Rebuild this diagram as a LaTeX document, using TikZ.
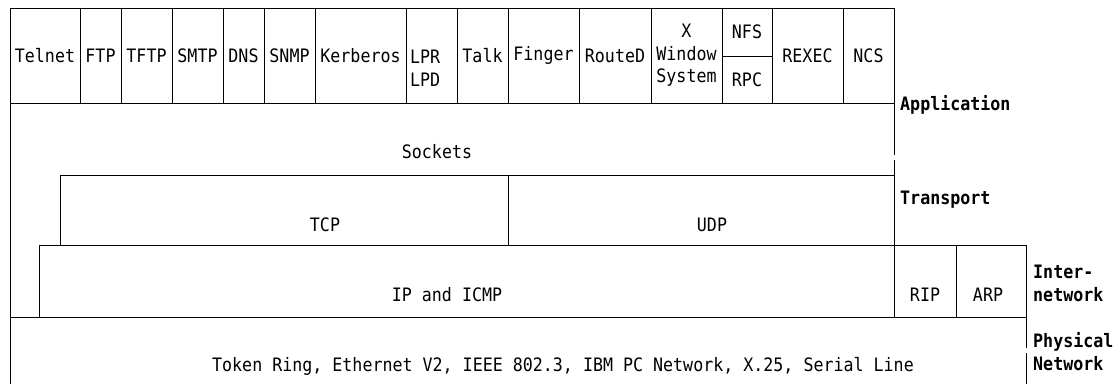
\documentclass[tikz,border=0pt]{standalone}
\usepackage{fontspec}
\setmonofont[FakeStretch=0.9]{DejaVu Sans Mono}
\usetikzlibrary{positioning}

\begin{document}
\begin{tikzpicture}[
  x=1pt, y=-1pt,
  font=\ttfamily\fontsize{18.5}{22.5}\selectfont,
  cell/.style={draw, line width=1pt, anchor=north west, inner sep=0pt,
               outer sep=0pt, align=center},
  txt/.style={inner sep=0pt, align=center},
  layer/.style={font=\ttfamily\bfseries\fontsize{18.5}{23}\selectfont,
                anchor=west, align=left, inner sep=0pt},
  stack/.style={line width=1pt, line join=miter},
]
  \useasboundingbox (0,0) rectangle (1113,384);

  % application protocols
  \foreach \l/\r/\name/\txt in {10/80/telnet/Telnet, 80/121/ftp/FTP,
      121/172/tftp/TFTP, 172/223/smtp/SMTP, 223/264/dns/DNS,
      264/315/snmp/SNMP, 315/406/kerberos/Kerberos, 457/508/talk/Talk,
      508/579/finger/Finger, 579/651/routed/RouteD,
      651/722/xwin/{X\\Window\\System}, 772/843/rexec/REXEC,
      843/894/ncs/NCS}
    \node[cell, minimum width={(\r-\l)*1pt}, minimum height=95pt]
      (\name) at (\l,8) {\txt};
  \node[cell, minimum width=51pt, minimum height=95pt] (lpr) at (406,8) {};
  \node[txt, align=left, text width=43pt] (lpr-txt)
    at ([yshift=-13pt]lpr.center) {LPR\\LPD};
  \node[cell, minimum width=50pt, minimum height=48pt] (nfs) at (722,8) {NFS};
  \node[cell, minimum width=50pt, minimum height=47pt] (rpc) at (722,56) {RPC};

  % sockets, stepped down to the left
  \draw[stack] (894,160) -- (894,175) -- (60,175) -- (60,245) -- (39,245)
    -- (39,317) -- (10,317) -- (10,103) -- (894,103) -- (894,155);
  \node[txt] (sockets) at (437,152) {Sockets};

  % transport
  \node[cell, minimum width=448pt, minimum height=70pt] (tcp) at (60,175) {};
  \node[cell, minimum width=386pt, minimum height=70pt] (udp) at (508,175) {};
  \node[txt] (tcp-txt) at (325,225) {TCP};
  \node[txt] (udp-txt) at (712,225) {UDP};

  % internetwork
  \node[cell, minimum width=855pt, minimum height=72pt] (ip) at (39,245) {};
  \node[cell, minimum width=62pt, minimum height=72pt] (rip) at (894,245) {};
  \node[cell, minimum width=70pt, minimum height=72pt] (arp) at (956,245) {};
  \node[txt] (ip-txt) at (447,295) {IP and ICMP};
  \node[txt] (rip-txt) at (925,295) {RIP};
  \node[txt] (arp-txt) at (988,295) {ARP};

  % physical network, open at the bottom
  \draw[stack] (10,384) -- (10,317) -- (1026,317) -- (1026,348);
  \draw[stack] (1026,353) -- (1026,384);
  \node[txt] (phys-txt) at (563,366)
    {Token Ring, Ethernet V2, IEEE 802.3, IBM PC Network, X.25, Serial Line};

  % layer names
  \node[layer] (l-app) at (900,105) {Application};
  \node[layer] (l-trans) at (900,200) {Transport};
  \node[layer] (l-inet) at (1033,283) {Inter-\\network};
  \node[layer] (l-phys) at (1033,352) {Physical\\Network};
\end{tikzpicture}
\end{document}
